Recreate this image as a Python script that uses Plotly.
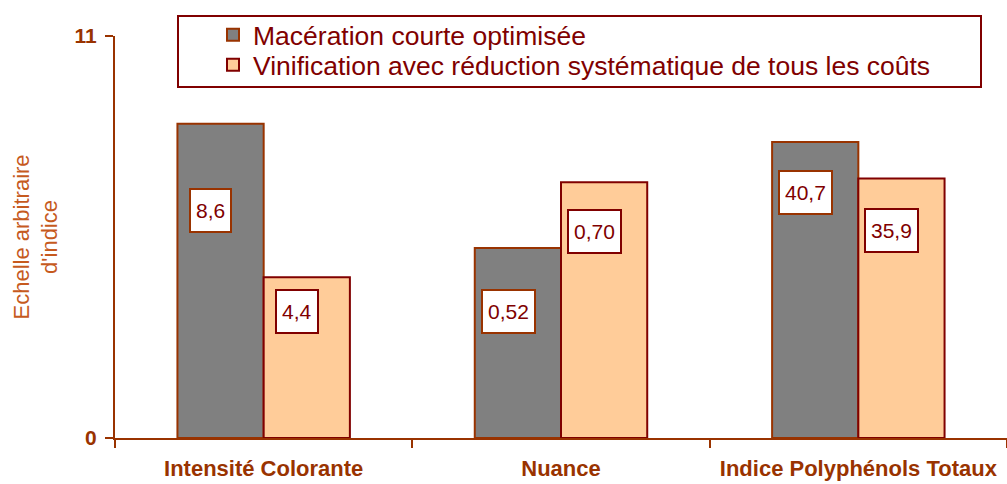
import plotly.graph_objects as go

# ---- data ----
categories = ["Intensité Colorante", "Nuance", "Indice Polyphénols Totaux"]
series_names = ["Macération courte optimisée",
                "Vinification avec réduction systématique de tous les coûts"]
# bar heights on the arbitrary index scale (0-11)
macer_heights = [8.6, 5.2, 8.1]
vinif_heights = [4.4, 7.0, 7.1]
# values printed in the label boxes
macer_labels = ["8,6", "0,52", "40,7"]
vinif_labels = ["4,4", "0,70", "35,9"]
y_ticks = [0, 11]

# ---- style ----
AXIS = "#993300"
DARK = "#800000"
GRAY = "#808080"
PEACH = "#FFCC99"
FONT = "Liberation Sans, Arial, sans-serif"
W, H = 1007, 484
ML, MR, MT, MB = 115, 0, 36, 46
# label box vertical positions (index units) and horizontal offsets (px)
macer_label_y = [6.23, 3.46, 6.72]
vinif_label_y = [3.46, 5.65, 5.68]
MACER_XSHIFT, VINIF_XSHIFT = -53, 33

pw = W - ML - MR
ph = H - MT - MB
def px_x(p):  # page px -> paper
    return (p - ML) / pw
def px_y(p):
    return (H - MB - p) / ph

fig = go.Figure()
fig.add_trace(go.Bar(x=categories, y=macer_heights, name=series_names[0],
                     legend="legend",
                     marker=dict(color=GRAY, line=dict(color=AXIS, width=2))))
fig.add_trace(go.Bar(x=categories, y=vinif_heights, name=series_names[1],
                     legend="legend2",
                     marker=dict(color=PEACH, line=dict(color=DARK, width=2))))

annotations = []
for i in range(len(categories)):
    for lab, ly, xs, bc in ((macer_labels[i], macer_label_y[i], MACER_XSHIFT, AXIS),
                            (vinif_labels[i], vinif_label_y[i], VINIF_XSHIFT, DARK)):
        annotations.append(dict(x=i, y=ly, xref="x", yref="y", text=lab,
                                showarrow=False, xshift=xs, height=31,
                                font=dict(family=FONT, size=21, color=DARK),
                                bgcolor="white", bordercolor=bc, borderwidth=2,
                                borderpad=5))
# y-axis title
annotations.append(dict(x=0, y=px_y(237.5), xref="paper", yref="paper",
                        xanchor="center", yanchor="middle",
                        text="Echelle arbitraire<br>d'indice", showarrow=False,
                        textangle=-90, xshift=-80,
                        font=dict(family=FONT, size=22, color="#C65A1E")))

legend_common = dict(xanchor="left", yanchor="middle",
                     bgcolor="rgba(0,0,0,0)", borderwidth=0,
                     font=dict(family=FONT, size=26.5, color=DARK))

fig.update_layout(
    width=W, height=H,
    margin=dict(l=ML, r=MR, t=MT, b=MB, pad=0),
    paper_bgcolor="white", plot_bgcolor="white",
    barmode="group", bargap=0.42, bargroupgap=0,
    font=dict(family=FONT, color=AXIS),
    showlegend=True,
    legend=dict(x=px_x(213), y=px_y(35), **legend_common),
    legend2=dict(x=px_x(213), y=px_y(65), **legend_common),
    shapes=[dict(type="rect", xref="paper", yref="paper",
                 x0=px_x(178), x1=px_x(981), y0=px_y(87), y1=px_y(16),
                 fillcolor="white", line=dict(color=DARK, width=2),
                 layer="above")],
    annotations=annotations,
    xaxis=dict(type="category", range=[-0.5, 2.5], tickson="boundaries",
               ticks="outside", ticklen=8, tickwidth=2, tickcolor=AXIS,
               showline=True, linecolor=AXIS, linewidth=2, showgrid=False,
               tickfont=dict(family=FONT, size=22, color=AXIS,
                             weight="bold"),
               ticklabelstandoff=10),
    yaxis=dict(range=[0, 11], tickvals=y_ticks, ticktext=[str(v) for v in y_ticks],
               ticks="outside", ticklen=8, tickwidth=2, tickcolor=AXIS,
               showline=True, linecolor=AXIS, linewidth=2,
               showgrid=True, gridcolor=AXIS, gridwidth=2, zeroline=False,
               tickfont=dict(family=FONT, size=21, color=AXIS, weight="bold"),
               ticklabelstandoff=4),
)

fig.write_html("out.html",
               config={"displayModeBar": False, "staticPlot": True},
               post_script="document.body.style.margin='0';"
                           "document.body.style.overflow='hidden';")
